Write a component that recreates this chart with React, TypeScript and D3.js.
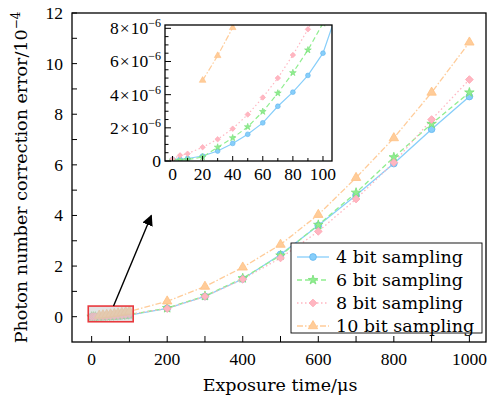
import React from "react";
import * as d3 from "d3";

// exposure times in μs
const timesFine = [0, 5, 10, 20, 30, 40, 50, 60, 70, 80, 90, 100];
const timesCoarse = [200, 300, 400, 500, 600, 700, 800, 900, 1000];

// fine part in units of 1e-6, coarse part in units of 1e-4
const bit4Fine = [0.1, 0.1, 0.15, 0.3, 0.6, 1.06, 1.61, 2.3, 3.3, 4.15, 5.16, 6.5];
const bit4Coarse = [0.33, 0.8, 1.49, 2.46, 3.6, 4.8, 6.05, 7.41, 8.7];
const bit6Fine = [0.05, 0.05, 0.08, 0.24, 0.83, 1.39, 2.06, 2.98, 4.09, 5.32, 6.69, 8.3];
const bit6Coarse = [0.34, 0.82, 1.52, 2.42, 3.63, 4.9, 6.3, 7.62, 8.86];
const bit8Fine = [0.12, 0.34, 0.44, 0.83, 1.31, 1.95, 2.8, 3.83, 5.0, 6.39, 7.94, 9.7];
const bit8Coarse = [0.32, 0.8, 1.48, 2.32, 3.37, 4.65, 6.09, 7.79, 9.37];
const bit10Fine = [null, null, null, 4.86, 6.35, 8.04, 9.9, 11.8, 13.9, 16.1, 18.5, 21.0];
const bit10Coarse = [0.61, 1.19, 1.95, 2.85, 4.03, 5.49, 7.06, 8.86, 10.84];

const legendLabels = ["4 bit sampling", "6 bit sampling", "8 bit sampling", "10 bit sampling"];

const xTicks = d3.range(0, 1001, 100);
const yTicks = d3.range(0, 13, 1);
const insetXTicks = d3.range(0, 101, 10);
const insetYTicks = d3.range(0, 8.01, 0.5);

const series = [
  { color: "#87CEFA", stroke: "#62b6ef", dash: null, sym: d3.symbolCircle, rot: 0, size: 36, fine: bit4Fine, coarse: bit4Coarse },
  { color: "#90EE90", stroke: "#79de79", dash: "5,3", sym: d3.symbolStar, rot: 0, size: 28, fine: bit6Fine, coarse: bit6Coarse },
  { color: "#FFB6C1", stroke: "#ffa6b4", dash: "1.5,2.5", sym: d3.symbolSquare, rot: 45, size: 30, fine: bit8Fine, coarse: bit8Coarse },
  { color: "#FFCC99", stroke: "#ffc083", dash: "6,2,1.5,2", sym: d3.symbolTriangle, rot: 0, size: 38, fine: bit10Fine, coarse: bit10Coarse },
].map((s, i) => {
  // all values in units of 1e-4
  const pts = [];
  timesFine.forEach((t, j) => {
    if (s.fine[j] != null) pts.push({ t, v: s.fine[j] / 100 });
  });
  timesCoarse.forEach((t, j) => pts.push({ t, v: s.coarse[j] }));
  return { ...s, label: legendLabels[i], pts };
});

const numFont = "'Liberation Serif', serif";
const txtFont = "'DejaVu Serif', serif";

export default function App() {
  const width = 491;
  const height = 401;
  const left = 72, right = 486, top = 13, bottom = 342;

  const x = d3.scaleLinear().domain([-52, 1044]).range([left, right]);
  const y = d3.scaleLinear().domain([-1, 12]).range([bottom, top]);

  const iL = 165, iR = 332, iT = 25, iB = 161;
  const ix = d3.scaleLinear().domain([-5, 106]).range([iL, iR]);
  const iy = d3.scaleLinear().domain([0, 8.2]).range([iB, iT]); // 1e-6

  const line = d3.line().x((d) => x(d.t)).y((d) => y(d.v));
  const iline = d3.line().x((d) => ix(d.t)).y((d) => iy(d.v * 100));

  const sym = (s, scale = 1) => d3.symbol().type(s.sym).size(s.size * scale)();

  const legendRows = [257, 280, 303, 326];

  return (
    <svg width={width} height={height} style={{ position: "absolute", left: 0, top: 0, background: "#fff" }}>
      <defs>
        <clipPath id="mainClip">
          <rect x={left} y={top} width={right - left} height={bottom - top} />
        </clipPath>
        <clipPath id="insetClip">
          <rect x={iL} y={iT} width={iR - iL} height={iB - iT} />
        </clipPath>
        <marker id="arrowHead" viewBox="0 0 10 10" refX="9" refY="5" markerWidth="11" markerHeight="11" markerUnits="userSpaceOnUse" orient="auto">
          <path d="M0,0 L10,5 L0,10 Z" fill="#000" />
        </marker>
      </defs>

      {/* main series */}
      <g clipPath="url(#mainClip)">
        {series.map((s, i) => (
          <path key={i} d={line(s.pts)} fill="none" stroke={s.color} strokeWidth={1.3} strokeDasharray={s.dash || undefined} />
        ))}
        {series.map((s, i) => (
          <g key={i}>
            {s.pts.map((p, j) => (
              <path key={j} d={sym(s)} transform={`translate(${x(p.t)},${y(p.v)}) rotate(${s.rot})`} fill={s.color} stroke={s.stroke} strokeWidth={0.8} />
            ))}
          </g>
        ))}
      </g>

      {/* zoom box and arrow */}
      <rect x={x(-9)} y={y(0.42)} width={x(110) - x(-9)} height={y(-0.2) - y(0.42)} fill="rgba(200,200,200,0.5)" stroke="#e8383d" strokeWidth={1.6} />
      <line x1={x(58)} y1={y(0.42)} x2={x(158)} y2={y(4.0)} stroke="#000" strokeWidth={1.4} markerEnd="url(#arrowHead)" />

      {/* main frame */}
      <rect x={left} y={top} width={right - left} height={bottom - top} fill="none" stroke="#000" strokeWidth={1.3} />
      {xTicks.map((t) => (
        <g key={t}>
          <line x1={x(t)} x2={x(t)} y1={bottom} y2={bottom - 6} stroke="#000" strokeWidth={1} />
          {t % 200 === 0 && (
            <text x={x(t)} y={365} textAnchor="middle" fontFamily={numFont} fontSize={17.5}>{t}</text>
          )}
        </g>
      ))}
      {yTicks.map((t) => (
        <g key={t}>
          <line x1={left} x2={left + 5} y1={y(t)} y2={y(t)} stroke="#000" strokeWidth={1} />
          {t % 2 === 0 && (
            <text x={63} y={y(t)} dy="0.34em" textAnchor="end" fontFamily={numFont} fontSize={17.5}>{t}</text>
          )}
        </g>
      ))}
      <text x={280} y={391} textAnchor="middle" fontFamily={txtFont} fontSize={17.5}>Exposure time/μs</text>
      <text transform={`translate(27,${(top + bottom) / 2}) rotate(-90)`} textAnchor="middle" fontFamily={txtFont} fontSize={17.5}>
        Photon number correction error/10<tspan fontSize={12} dy={-7}>−4</tspan>
      </text>

      {/* legend */}
      <rect x={291} y={243} width={191} height={90} fill="#fff" stroke="#000" strokeWidth={0.9} />
      {series.map((s, i) => (
        <g key={i}>
          <line x1={297} x2={329} y1={legendRows[i]} y2={legendRows[i]} stroke={s.color} strokeWidth={1.3} strokeDasharray={s.dash || undefined} />
          <path d={sym(s)} transform={`translate(313,${legendRows[i]}) rotate(${s.rot})`} fill={s.color} stroke={s.stroke} strokeWidth={0.8} />
          <text x={336} y={legendRows[i]} dy="0.36em" fontFamily={txtFont} fontSize={17.5}>{s.label}</text>
        </g>
      ))}

      {/* inset */}
      <rect x={iL} y={iT} width={iR - iL} height={iB - iT} fill="#fff" />
      <g clipPath="url(#insetClip)">
        {series.map((s, i) => (
          <path key={i} d={iline(s.pts)} fill="none" stroke={s.color} strokeWidth={1.2} strokeDasharray={s.dash || undefined} />
        ))}
        {series.map((s, i) => (
          <g key={i}>
            {s.pts.filter((p) => p.t <= 100).map((p, j) => (
              <path key={j} d={sym(s, 0.5)} transform={`translate(${ix(p.t)},${iy(p.v * 100)}) rotate(${s.rot})`} fill={s.color} stroke={s.stroke} strokeWidth={0.6} />
            ))}
          </g>
        ))}
      </g>
      <rect x={iL} y={iT} width={iR - iL} height={iB - iT} fill="none" stroke="#000" strokeWidth={1.3} />
      {insetXTicks.map((t) => (
        <g key={t}>
          <line x1={ix(t)} x2={ix(t)} y1={iB} y2={iB - (t % 20 === 0 ? 5 : 3)} stroke="#000" strokeWidth={1} />
          {t % 20 === 0 && (
            <text x={ix(t)} y={180} textAnchor="middle" fontFamily={numFont} fontSize={17.5}>{t}</text>
          )}
        </g>
      ))}
      {insetYTicks.map((t) => (
        <g key={t}>
          <line x1={iL} x2={iL + (t % 2 === 0 ? 6 : 3.5)} y1={iy(t)} y2={iy(t)} stroke="#000" strokeWidth={1} />
          {t % 2 === 0 && (
            <text x={161} y={iy(t)} dy="0.34em" textAnchor="end" fontFamily={numFont} fontSize={17.5}>
              {t === 0 ? "0" : (
                <>
                  {t}<tspan dx={1}>×</tspan><tspan dx={1}>10</tspan><tspan fontSize={12} dy={-7}>−6</tspan>
                </>
              )}
            </text>
          )}
        </g>
      ))}
    </svg>
  );
}
